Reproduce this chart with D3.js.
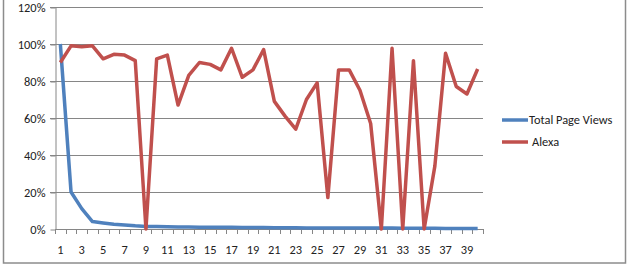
<!DOCTYPE html>
<html>
<head>
<meta charset="utf-8">
<script src="https://cdn.jsdelivr.net/npm/d3@7"></script>
<style>
  body { margin: 0; background: #fff; }
  text { font-family: Carlito, Calibri, Lato, sans-serif; font-size: 12.4px; fill: #222; }
</style>
</head>
<body>
<svg id="chart" width="629" height="265"></svg>
<script>
// categories 1..40
const categories = d3.range(1, 41);

// share of total page views (fraction)
const pageViews = [1.00, 0.20, 0.11, 0.04, 0.033, 0.026, 0.022, 0.017, 0.014, 0.013,
                   0.012, 0.011, 0.011, 0.010, 0.010, 0.009, 0.009, 0.008, 0.008, 0.008,
                   0.007, 0.007, 0.007, 0.006, 0.006, 0.006, 0.006, 0.005, 0.005, 0.005,
                   0.005, 0.005, 0.004, 0.004, 0.004, 0.004, 0.003, 0.003, 0.003, 0.003];

// Alexa (fraction)
const alexa = [0.90, 0.99, 0.985, 0.99, 0.92, 0.944, 0.94, 0.91, 0.00, 0.92,
               0.94, 0.67, 0.83, 0.90, 0.89, 0.86, 0.977, 0.82, 0.86, 0.97,
               0.69, 0.61, 0.54, 0.70, 0.79, 0.17, 0.86, 0.86, 0.75, 0.57,
               0.00, 0.977, 0.00, 0.91, 0.00, 0.34, 0.95, 0.77, 0.73, 0.865];

const yTicks = [0, 0.2, 0.4, 0.6, 0.8, 1.0, 1.2];

const series = [
    {name: "Total Page Views", values: pageViews, color: "#4f81bd"},
    {name: "Alexa", values: alexa, color: "#c0504d"}
];

const svg = d3.select("#chart");
const plot = {left: 55, right: 483, top: 7, bottom: 229};

// outer chart frame (top edge cut off)
svg.append("rect")
    .attr("x", 3.5).attr("y", -5)
    .attr("width", 622).attr("height", 268)
    .attr("fill", "none")
    .attr("stroke", "#8c8c8c")
    .attr("stroke-width", 1.5);

const x = d3.scaleBand()
    .domain(categories)
    .range([plot.left, plot.right]);

const y = d3.scaleLinear()
    .domain([0, 1.2])
    .range([plot.bottom, plot.top]);

// gridlines
svg.append("g")
    .selectAll("line")
    .data(yTicks.slice(1))
    .join("line")
        .attr("x1", plot.left - 5)
        .attr("x2", plot.right)
        .attr("y1", d => Math.round(y(d)) + 0.5)
        .attr("y2", d => Math.round(y(d)) + 0.5)
        .attr("stroke", "#868686");

// y axis
const yAxis = svg.append("g")
    .attr("transform", `translate(${plot.left + 0.5},0.5)`)
    .call(d3.axisLeft(y).tickValues(yTicks).tickFormat(d3.format(".0%")).tickSize(5).tickSizeOuter(0).tickPadding(5));
yAxis.select(".domain").attr("stroke", "#868686");
yAxis.selectAll(".tick line").attr("stroke", "#868686");
yAxis.selectAll("text").attr("font-size", null).attr("font-family", null);

// x axis: ticks at category boundaries
const xg = svg.append("g");
xg.append("line")
    .attr("x1", plot.left).attr("x2", plot.right)
    .attr("y1", plot.bottom + 0.5).attr("y2", plot.bottom + 0.5)
    .attr("stroke", "#868686");
xg.selectAll(".xtick")
    .data(categories.concat([null]))
    .join("line")
        .attr("class", "xtick")
        .attr("x1", (d, i) => Math.round(plot.left + i * x.step()) + 0.5)
        .attr("x2", (d, i) => Math.round(plot.left + i * x.step()) + 0.5)
        .attr("y1", plot.bottom)
        .attr("y2", plot.bottom + 5)
        .attr("stroke", "#868686");
xg.selectAll(".xlabel")
    .data(categories.filter(d => d % 2 === 1))
    .join("text")
        .attr("class", "xlabel")
        .attr("x", d => x(d) + x.bandwidth() / 2)
        .attr("y", 254)
        .attr("text-anchor", "middle")
        .text(d => d);

// lines
const line = d3.line()
    .x((d, i) => x(categories[i]) + x.bandwidth() / 2)
    .y(d => y(d));

svg.append("g")
    .selectAll("path")
    .data(series)
    .join("path")
        .attr("d", d => line(d.values))
        .attr("fill", "none")
        .attr("stroke", d => d.color)
        .attr("stroke-width", 3.5)
        .attr("stroke-linejoin", "round");

// legend
const legend = svg.append("g")
    .selectAll("g")
    .data(series)
    .join("g")
        .attr("transform", (d, i) => `translate(502,${120 + i * 22})`);
legend.append("line")
    .attr("x1", 0).attr("x2", 26)
    .attr("y1", 0).attr("y2", 0)
    .attr("stroke", d => d.color)
    .attr("stroke-width", 3.5);
legend.append("text")
    .attr("x", (d, i) => i === 0 ? 27 : 30)
    .attr("y", 4)
    .text(d => d.name);
</script>
</body>
</html>
